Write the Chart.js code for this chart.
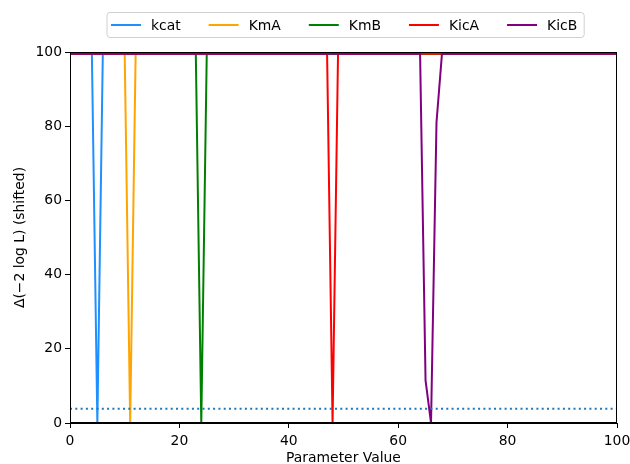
<!DOCTYPE html>
<html>
<head>
<meta charset="utf-8">
<script src="https://cdn.jsdelivr.net/npm/chart.js@4.4.1/dist/chart.umd.min.js"></script>
<style>
  body { margin: 0; background: #fff; }
  #wrap { width: 630px; height: 464px; }
</style>
</head>
<body>
<div id="wrap"><canvas id="profileChart" width="630" height="464"></canvas></div>
<script>
// profile data (breakpoints)
const seriesNames = ["kcat", "KmA", "KmB", "KicA", "KicB"];
const seriesColors = ["#1e90ff", "#ffa500", "#008000", "#ff0000", "#800080"];

const kcatX = [0, 4, 5, 6, 100];
const kcatY = [99.5, 99.5, 0, 99.5, 99.5];
const kmaX = [0, 10, 11, 12, 100];
const kmaY = [99.5, 99.5, 0, 99.5, 99.5];
const kmbX = [0, 23, 24, 25, 100];
const kmbY = [99.5, 99.5, 0, 99.5, 99.5];
const kicaX = [0, 47, 48, 49, 100];
const kicaY = [99.5, 99.5, 0, 99.5, 99.5];
const kicbX = [0, 64, 65, 66, 67, 68, 100];
const kicbY = [99.5, 99.5, 11.5, 0, 81, 99.5, 99.5];

// 95% threshold line
const thresholdX = [0, 100];
const thresholdY = [3.84, 3.84];

const xTicks = [0, 20, 40, 60, 80, 100];
const yTicks = [0, 20, 40, 60, 80, 100];

const FONT = "'DejaVu Sans', sans-serif";
const FONT_SIZE = 13.9;

function toPoints(xs, ys) {
  return xs.map((x, i) => ({ x: x, y: ys[i] }));
}

const allX = [kcatX, kmaX, kmbX, kicaX, kicbX];
const allY = [kcatY, kmaY, kmbY, kicaY, kicbY];

const datasets = seriesNames.map((name, i) => ({
  label: name,
  data: toPoints(allX[i], allY[i]),
  borderColor: seriesColors[i],
  backgroundColor: seriesColors[i],
  borderWidth: 2,
  pointRadius: 0,
  tension: 0,
  order: seriesNames.length - i
}));

datasets.push({
  label: "threshold",
  data: toPoints(thresholdX, thresholdY),
  borderColor: "#1f77b4",
  borderWidth: 2,
  borderDash: [2, 3.3],
  pointRadius: 0,
  order: 0
});

// frame + legend drawn like matplotlib
const framePlugin = {
  id: "frame",
  afterDatasetsDraw(chart) {
    const ctx = chart.ctx;
    const a = chart.chartArea;
    ctx.save();
    ctx.strokeStyle = "#000";
    ctx.lineWidth = 1;
    ctx.strokeRect(Math.round(a.left) + 0.5, Math.round(a.top) + 0.5,
      Math.round(a.right - a.left) - 1, Math.round(a.bottom - a.top) - 1);
    ctx.restore();
  },
  afterDraw(chart) {
    const ctx = chart.ctx;
    ctx.save();
    ctx.font = FONT_SIZE + "px " + FONT;
    const boxLeft = 107, boxTop = 12.5, boxH = 25;
    const lineLen = 30, textGap = 10, colGap = 28;
    let x = boxLeft + 4;
    const items = [];
    seriesNames.forEach((name) => {
      const w = ctx.measureText(name).width;
      items.push({ name: name, x: x, w: w });
      x += lineLen + textGap + w + colGap;
    });
    const last = items[items.length - 1];
    const boxRight = last.x + lineLen + textGap + last.w + 7;

    // box
    const r = 3;
    ctx.beginPath();
    ctx.moveTo(boxLeft + r, boxTop);
    ctx.arcTo(boxRight, boxTop, boxRight, boxTop + boxH, r);
    ctx.arcTo(boxRight, boxTop + boxH, boxLeft, boxTop + boxH, r);
    ctx.arcTo(boxLeft, boxTop + boxH, boxLeft, boxTop, r);
    ctx.arcTo(boxLeft, boxTop, boxRight, boxTop, r);
    ctx.closePath();
    ctx.fillStyle = "rgba(255,255,255,0.8)";
    ctx.fill();
    ctx.strokeStyle = "#d0d0d0";
    ctx.lineWidth = 1;
    ctx.stroke();

    const cy = boxTop + boxH / 2;
    items.forEach((it, i) => {
      ctx.strokeStyle = seriesColors[i];
      ctx.lineWidth = 2;
      ctx.beginPath();
      ctx.moveTo(it.x, cy);
      ctx.lineTo(it.x + lineLen, cy);
      ctx.stroke();
      ctx.fillStyle = "#000";
      ctx.textBaseline = "middle";
      ctx.textAlign = "left";
      ctx.fillText(it.name, it.x + lineLen + textGap, cy + 1);
    });
    ctx.restore();
  }
};

const ctx = document.getElementById("profileChart");
new Chart(ctx, {
  type: "line",
  data: { datasets: datasets },
  plugins: [framePlugin],
  options: {
    responsive: false,
    animation: false,
    events: [],
    layout: { padding: { top: 52, right: 13, left: 0, bottom: 0 } },
    plugins: {
      legend: { display: false },
      tooltip: { enabled: false }
    },
    scales: {
      x: {
        type: "linear",
        min: 0,
        max: 100,
        afterBuildTicks: (scale) => { scale.ticks = xTicks.map((v) => ({ value: v })); },
        afterFit: (scale) => {
          scale.height = 41;
          scale.paddingLeft = 0;
          scale.paddingRight = 0;
        },
        ticks: {
          color: "#000",
          font: { family: FONT, size: FONT_SIZE },
          padding: 5,
          maxRotation: 0
        },
        grid: {
          drawOnChartArea: false,
          drawTicks: true,
          tickLength: 5,
          color: "#000"
        },
        border: { display: true, color: "#000", width: 1 },
        title: {
          display: true,
          text: "Parameter Value",
          color: "#000",
          font: { family: FONT, size: FONT_SIZE, lineHeight: 1 },
          padding: { top: 0, bottom: -1 }
        }
      },
      y: {
        type: "linear",
        min: 0,
        max: 100,
        afterBuildTicks: (scale) => { scale.ticks = yTicks.map((v) => ({ value: v })); },
        afterFit: (scale) => {
          scale.width = 70;
          scale.paddingTop = 0;
          scale.paddingBottom = 0;
        },
        ticks: {
          color: "#000",
          font: { family: FONT, size: FONT_SIZE },
          padding: 3
        },
        grid: {
          drawOnChartArea: false,
          drawTicks: true,
          tickLength: 5,
          color: "#000"
        },
        border: { display: true, color: "#000", width: 1 },
        title: {
          display: true,
          text: "Δ(−2 log L) (shifted)",
          color: "#000",
          font: { family: FONT, size: FONT_SIZE },
          padding: { top: 12, bottom: 0 }
        }
      }
    }
  }
});
</script>
</body>
</html>
